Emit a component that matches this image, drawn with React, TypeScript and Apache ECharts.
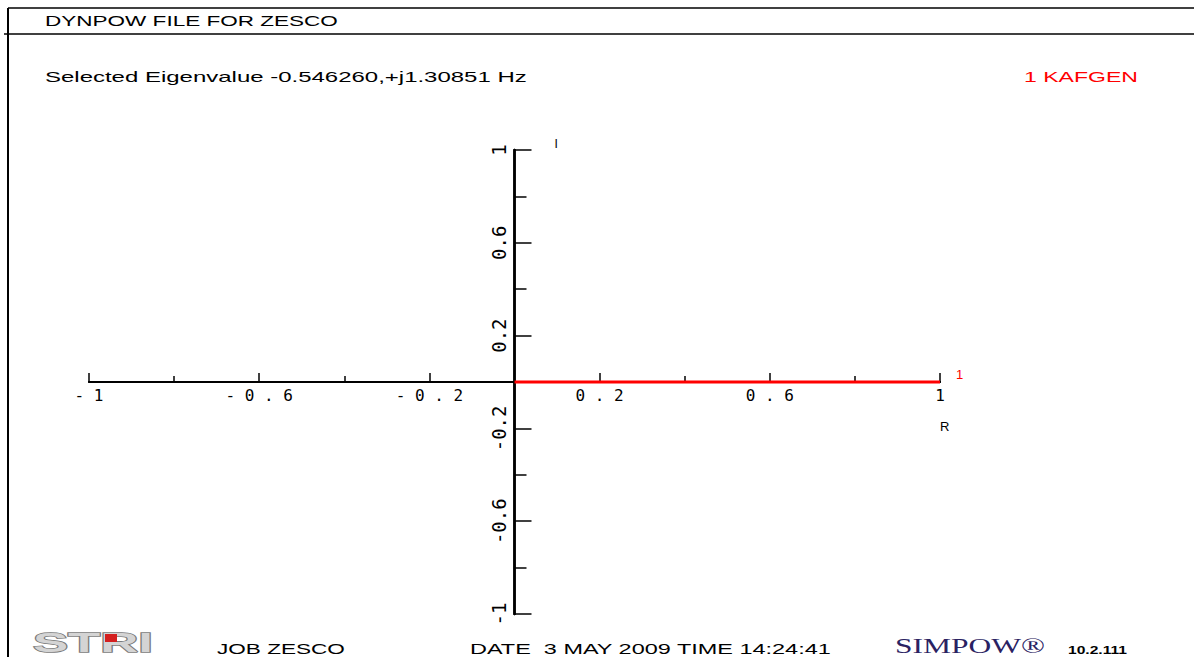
import React, { useEffect, useRef } from 'react';
import * as echarts from 'echarts';

// ---- data ----
const TITLE = 'DYNPOW FILE FOR ZESCO';
const EIGEN_TEXT = 'Selected Eigenvalue -0.546260,+j1.30851 Hz';
const MODE_NUMBERS = [1];
const MODE_NAMES = ['KAFGEN'];
const MODE_REAL = [1.0];
const MODE_IMAG = [0.0];
const AXIS_MIN = -1;
const AXIS_MAX = 1;
const X_MAJOR_TICKS = [-1, -0.6, -0.2, 0.2, 0.6, 1];
const X_MINOR_TICKS = [-0.8, -0.4, 0.4, 0.8];
const Y_MAJOR_TICKS = [-1, -0.6, -0.2, 0.2, 0.6, 1];
const Y_MINOR_TICKS = [-0.8, -0.4, 0.4, 0.8];
const X_NAME = 'R';
const Y_NAME = 'I';
const LOGO = 'STRI';
const FOOTER_JOB = 'JOB ZESCO';
const FOOTER_DATE = 'DATE  3 MAY 2009 TIME 14:24:41';
const FOOTER_BRAND = 'SIMPOW®';
const FOOTER_VERSION = '10.2.111';

const SANS = '"Liberation Sans", Arial, sans-serif';
const MONO = '"DejaVu Sans Mono", monospace';

// grid geometry (pixels)
const GRID_LEFT = 89;
const GRID_RIGHT = 254;
const GRID_TOP = 150;
const GRID_BOTTOM = 43;
const ZERO_X = 514.5; // where x = 0 falls
const ZERO_Y = 382; // where y = 0 falls

function measure(text: string, font: string): number {
  const c = document.createElement('canvas').getContext('2d') as CanvasRenderingContext2D;
  c.font = font;
  return c.measureText(text).width || 1;
}

function stretched(text: string, left: number, cy: number, width: number, font: string, fill: string, extra: any = {}) {
  const w = measure(text, font);
  return {
    type: 'text',
    x: left,
    y: cy,
    scaleX: width / w,
    silent: true,
    style: {
      text,
      font,
      fill,
      align: 'left',
      verticalAlign: 'middle',
      textAlign: 'left',
      textVerticalAlign: 'middle',
      ...extra,
    },
  };
}

const spaced = (v: number) => String(v).split('').join(' ');

export default function App() {
  const ref = useRef<HTMLDivElement>(null);
  useEffect(() => {
    if (!ref.current) return;
    const chart = echarts.init(ref.current, undefined, { renderer: 'svg' });
    const tickStyle = { color: '#000', width: 1.5 };
    const legendText = MODE_NUMBERS.map((n, i) => `${n} ${MODE_NAMES[i]}`).join('  ');
    const gridBottomY = 657 - GRID_BOTTOM;
    const xLabelMargin = ZERO_Y + 5 - gridBottomY; // bring labels up to the zero line
    const yLabelMargin = GRID_LEFT - (ZERO_X - 6); // bring labels over to the zero line
    const option: any = {
      animation: false,
      backgroundColor: '#ffffff',
      grid: { left: GRID_LEFT, right: GRID_RIGHT, top: GRID_TOP, bottom: GRID_BOTTOM, containLabel: false, outerBoundsMode: 'none' },
      xAxis: [
        {
          type: 'value', min: AXIS_MIN, max: AXIS_MAX, position: 'bottom',
          axisLine: { show: true, onZero: true, onZeroAxisIndex: 0, lineStyle: { color: '#000', width: 2 } },
          splitLine: { show: false },
          axisTick: { show: true, inside: true, length: 9, customValues: X_MAJOR_TICKS, lineStyle: tickStyle },
          axisLabel: { show: true, customValues: X_MAJOR_TICKS, formatter: (v: number) => spaced(v), fontFamily: MONO, fontSize: 16, color: '#000', margin: xLabelMargin },
          name: X_NAME, nameLocation: 'end', nameGap: 0,
          nameTextStyle: { fontFamily: SANS, fontSize: 13, color: '#000', align: 'left', verticalAlign: 'top', padding: [38, 0, 0, 0] },
        },
        {
          type: 'value', min: AXIS_MIN, max: AXIS_MAX, position: 'bottom',
          axisLine: { show: true, onZero: true, onZeroAxisIndex: 1, lineStyle: { color: '#000', width: 2 } },
          splitLine: { show: false },
          axisTick: { show: true, inside: true, length: 6, customValues: X_MINOR_TICKS, lineStyle: tickStyle },
          axisLabel: { show: false },
        },
      ],
      yAxis: [
        {
          type: 'value', min: AXIS_MIN, max: AXIS_MAX, position: 'left',
          axisLine: { show: true, onZero: true, onZeroAxisIndex: 0, lineStyle: { color: '#000', width: 2.5 } },
          splitLine: { show: false },
          axisTick: { show: true, inside: true, length: 17, customValues: Y_MAJOR_TICKS, lineStyle: tickStyle },
          axisLabel: { show: true, customValues: Y_MAJOR_TICKS, rotate: 90, fontFamily: MONO, fontSize: 19, color: '#000', margin: yLabelMargin },
          name: Y_NAME, nameLocation: 'end', nameGap: 0,
          nameTextStyle: { fontFamily: SANS, fontSize: 12, color: '#000', align: 'left', verticalAlign: 'bottom', padding: [0, 0, 0, 40] },
        },
        {
          type: 'value', min: AXIS_MIN, max: AXIS_MAX, position: 'left',
          axisLine: { show: true, onZero: true, onZeroAxisIndex: 1, lineStyle: { color: '#000', width: 2.5 } },
          splitLine: { show: false },
          axisTick: { show: true, inside: true, length: 12, customValues: Y_MINOR_TICKS, lineStyle: tickStyle },
          axisLabel: { show: false },
        },
      ],
      series: MODE_NUMBERS.map((n, i) => ({
        type: 'line',
        name: MODE_NAMES[i],
        xAxisIndex: 0,
        yAxisIndex: 0,
        data: [[0, 0], [MODE_REAL[i], MODE_IMAG[i]]],
        symbol: 'none',
        lineStyle: { color: '#ff0000', width: 3 },
        itemStyle: { color: '#ff0000' },
        endLabel: { show: true, formatter: String(n), color: '#ff0000', fontFamily: SANS, fontSize: 13, distance: 16, offset: [0, -8] },
        z: 5,
      })),
      graphic: [
        { type: 'line', silent: true, shape: { x1: 8, y1: 8, x2: 8, y2: 657 }, style: { stroke: '#000', lineWidth: 2 } },
        { type: 'line', silent: true, shape: { x1: 8, y1: 8, x2: 1194, y2: 8 }, style: { stroke: '#000', lineWidth: 1.5 } },
        { type: 'line', silent: true, shape: { x1: 4, y1: 34, x2: 1194, y2: 34 }, style: { stroke: '#000', lineWidth: 1.5 } },
        stretched(TITLE, 45, 21, 293, `14px ${SANS}`, '#000'),
        stretched(EIGEN_TEXT, 45, 77, 482, `14px ${SANS}`, '#000'),
        stretched(legendText, 1024, 77, 114, `14px ${SANS}`, '#ff0000'),
        stretched(LOGO, 33, 642, 120, `bold 28px ${SANS}`, '#d4d4d4', { stroke: '#7a7a7a', lineWidth: 1.5 }),
        { type: 'rect', silent: true, shape: { x: 105, y: 634, width: 12, height: 8 }, style: { fill: '#d42020' } },
        stretched(FOOTER_JOB, 217, 649, 128, `14px ${SANS}`, '#000'),
        stretched(FOOTER_DATE, 470, 649, 362, `14px ${SANS}`, '#000'),
        stretched(FOOTER_BRAND, 895, 646, 150, `20px "Liberation Serif", serif`, '#2a2262'),
        stretched(FOOTER_VERSION, 1068, 651, 59, `bold 10px ${SANS}`, '#000'),
      ],
    };
    chart.setOption(option);
    return () => chart.dispose();
  }, []);
  return <div ref={ref} style={{ position: 'absolute', left: 0, top: 0, width: 1194, height: 657 }} />;
}
